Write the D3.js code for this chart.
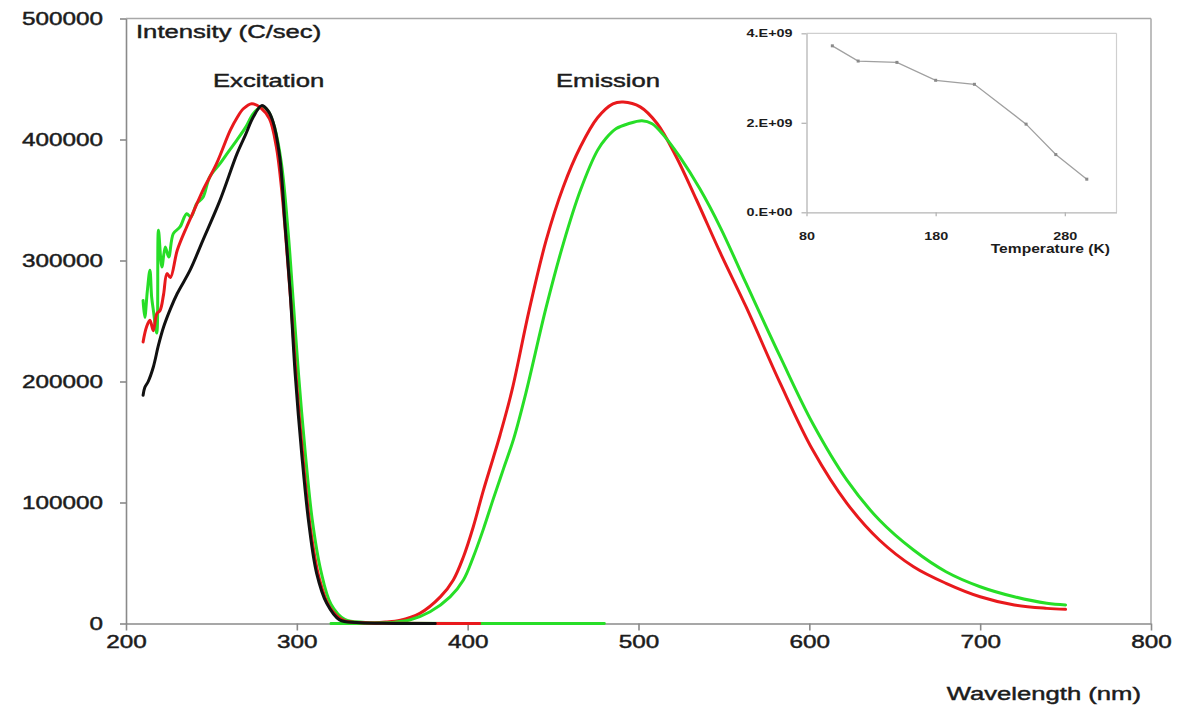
<!DOCTYPE html>
<html><head><meta charset="utf-8">
<script src="https://cdn.jsdelivr.net/npm/d3@7"></script>
<style>
body{margin:0;background:#fff}
svg{display:block;background:#fff}
text{font-family:"Liberation Sans",Arial,sans-serif;fill:#1c1c1c}
</style>
</head><body>
<svg id="c" width="1196" height="711"></svg>
<script>
// ---------- data (wavelength nm, intensity C/sec) ----------
const excitationGreen = [[210,267000],[211,253000],[212.5,275000],[214,292000],[215,270000],[216,259000],[218,240000],[219,325000],[221,294600],[223,311200],[225,302900],[227.7,322200],[231.6,327700],[235.5,338700],[238,336000],[241.4,347000],[245,352000],[249,369000],[255,380000],[260,390000],[264.8,399300],[270,410000],[274.5,421300],[279.4,427000],[283,424000],[287,410000],[291,380000],[295,322000],[298,264000],[301,206000],[305,140000],[309,86000],[314,44000],[320,16000],[328,3500],[340,900],[360,300],[400,0],[480,0]];
const excitationRed = [[210,232700],[212,245000],[214,250600],[216,242000],[218,256000],[220,258900],[222,272000],[224,289200],[226,286000],[230,308400],[235.5,327700],[240,342000],[245,358000],[253,380000],[261,407500],[265,418000],[268.7,425400],[273.6,429600],[279,426000],[284,417000],[288,394000],[291,360000],[294,311000],[297,256000],[300,196000],[304,131000],[308,78000],[313,38000],[319,14000],[327,2800],[340,700],[360,200],[407,0]];
const excitationBlack = [[210,188700],[211,195000],[213,200000],[216,212000],[219,230000],[222,245000],[226,260000],[230,272700],[237.5,292000],[245,316700],[255,349700],[265,388300],[270,404000],[274.5,418500],[279.4,428000],[283,424000],[286,415000],[290,385500],[293,331000],[296,276000],[299,207000],[303,138000],[307,83000],[311.6,41500],[317.5,16700],[325,3000],[335,800],[350,200],[381,0]];
const emissionRed = [[330,0],[345,500],[352,1200],[360,2500],[372,8400],[384,22000],[391.6,36000],[397.5,55000],[403.3,80000],[409.2,110000],[415,137000],[419,156000],[426,193000],[436,259000],[446,317000],[456,361000],[466,394000],[476,418000],[485,429500],[491,431000],[501,427000],[511,413000],[522,386000],[534,350000],[548,306000],[563,261600],[583,198400],[602,143300],[622,99300],[641,69000],[661,46900],[680,33200],[700,22100],[720,15300],[739,12500],[750,11700]];
const emissionGreen = [[320,0],[340,200],[355,800],[366,2900],[378,9700],[389.7,22000],[397.5,36000],[403.3,55000],[409.2,78000],[415,103000],[421,128000],[427,153000],[434,190000],[446,261600],[456,314000],[466,358000],[476,391000],[481,401000],[487,409000],[494,413000],[502,415500],[508,413000],[515,403000],[524,386000],[536,359000],[548,327000],[563,281000],[583,220300],[602,165300],[622,118500],[641,85500],[661,60700],[680,42800],[700,30400],[720,22100],[739,16700],[750,15300]];

const xTicks = [200,300,400,500,600,700,800];
const yTicks = [0,100000,200000,300000,400000,500000];

// inset: temperature (K) vs integrated intensity
const insetTemps = [100,120,150,180,210,250,273,297];
const insetValues = [3.72e9,3.38e9,3.35e9,2.95e9,2.86e9,1.97e9,1.29e9,0.74e9];
const insetXTicks = [80,180,280];
const insetYTicks = [0,2e9,4e9];
const insetYLabels = ["0.E+00","2.E+09","4.E+09"];

// ---------- drawing ----------
const SX = 1.35; // horizontal stretch of the original picture's text
const svg = d3.select("#c");
const x = d3.scaleLinear().domain([200,800]).range([126,1151]);
const y = d3.scaleLinear().domain([0,500000]).range([623.5,18.5]);

// frame (top & right)
svg.append("line").attr("x1",126).attr("x2",1151).attr("y1",18.5).attr("y2",18.5).attr("stroke","#a8a8a8").attr("stroke-width",1.5);
svg.append("line").attr("x1",1151).attr("x2",1151).attr("y1",18.5).attr("y2",623.5).attr("stroke","#a8a8a8").attr("stroke-width",1.5);

function styleAxis(g, fs){
  g.select(".domain").attr("stroke","#8a8a8a").attr("stroke-width",1.6);
  g.selectAll(".tick line").attr("stroke","#8a8a8a").attr("stroke-width",1.6);
  g.selectAll(".tick text").attr("font-size",fs).attr("fill","#1c1c1c")
    .attr("stroke","#1c1c1c").attr("stroke-width",0.45)
    .attr("font-family","'Liberation Sans',Arial,sans-serif")
    .each(function(){
      const t=d3.select(this);
      const xv=+t.attr("x")||0;
      t.attr("x",xv/SX).attr("transform",`scale(${SX},1)`);
    });
}

const gy = svg.append("g").attr("transform","translate(126,0)")
  .call(d3.axisLeft(y).tickValues(yTicks).tickFormat(d3.format("d")).tickSize(6).tickPadding(17).tickSizeOuter(0));
styleAxis(gy, 18);
const gx = svg.append("g").attr("transform","translate(0,623.5)")
  .call(d3.axisBottom(x).tickValues(xTicks).tickFormat(d3.format("d")).tickSize(7).tickPadding(5).tickSizeOuter(0));
styleAxis(gx, 18);

// curves
const line = d3.line().x(d=>x(d[0])).y(d=>y(d[1])).curve(d3.curveCatmullRom.alpha(0.5));
const series = [
  {data:emissionRed, color:"#e8191c"},
  {data:emissionGreen, color:"#27de27"},
  {data:excitationGreen, color:"#27de27"},
  {data:excitationRed, color:"#e8191c"},
  {data:excitationBlack, color:"#111111"}
];
svg.append("g").selectAll("path").data(series).join("path")
  .attr("d",d=>line(d.data)).attr("fill","none").attr("stroke",d=>d.color)
  .attr("stroke-width",3).attr("stroke-linejoin","round").attr("stroke-linecap","round");

function label(txt, px, py, fs, anchor){
  svg.append("text").attr("transform",`translate(${px},${py}) scale(${SX},1)`)
    .attr("font-size",fs).attr("text-anchor",anchor||"start")
    .attr("stroke","#1c1c1c").attr("stroke-width",0.45).text(txt);
}
label("Intensity (C/sec)",136,37.5,19,"start");
label("Excitation",213,87,19,"start");
label("Emission",556,87,19,"start");
label("Wavelength (nm)",1141,700,19,"end");

// ---------- inset ----------
const ix = d3.scaleLinear().domain([80,320]).range([806.5,1116.5]);
const iy = d3.scaleLinear().domain([0,4e9]).range([212.3,33.3]);
svg.append("line").attr("x1",806.5).attr("x2",1116.5).attr("y1",33.3).attr("y2",33.3).attr("stroke","#cfcfcf").attr("stroke-width",1.2);
svg.append("line").attr("x1",1116.5).attr("x2",1116.5).attr("y1",33.3).attr("y2",212.3).attr("stroke","#cfcfcf").attr("stroke-width",1.2);
function styleInset(g, sx){
  g.select(".domain").attr("stroke","#b5b5b5").attr("stroke-width",1.3);
  g.selectAll(".tick line").attr("stroke","#b5b5b5").attr("stroke-width",1.3);
  g.selectAll(".tick text").attr("font-size",11.5).attr("font-weight","bold").attr("fill","#2a2a2a")
    .attr("font-family","'Liberation Sans',Arial,sans-serif")
    .each(function(){
      const t=d3.select(this);
      const xv=+t.attr("x")||0;
      t.attr("x",xv/sx).attr("transform",`scale(${sx},1)`);
    });
}
const igy = svg.append("g").attr("transform","translate(806.5,0)")
  .call(d3.axisLeft(iy).tickValues(insetYTicks).tickFormat((d,i)=>insetYLabels[i]).tickSize(5).tickPadding(9).tickSizeOuter(0));
styleInset(igy, 1.25);
const igx = svg.append("g").attr("transform","translate(0,212.3)")
  .call(d3.axisBottom(ix).tickValues(insetXTicks).tickFormat(d3.format("d")).tickSize(4).tickPadding(16).tickSizeOuter(0));
styleInset(igx, 1.25);

const ipts = insetTemps.map((t,i)=>[t,insetValues[i]]);
svg.append("path").attr("d",d3.line().x(d=>ix(d[0])).y(d=>iy(d[1]))(ipts))
  .attr("fill","none").attr("stroke","#a0a0a0").attr("stroke-width",1.3);
svg.append("g").selectAll("rect").data(ipts).join("rect")
  .attr("x",d=>ix(d[0])-1.5).attr("y",d=>iy(d[1])-1.5).attr("width",3).attr("height",3).attr("fill","#8a8a8a");
svg.append("text").attr("transform","translate(1110,252.5) scale(1.3,1)")
  .attr("font-size",12).attr("font-weight","bold").attr("text-anchor","end").attr("fill","#2a2a2a").text("Temperature (K)");
</script>
</body></html>
